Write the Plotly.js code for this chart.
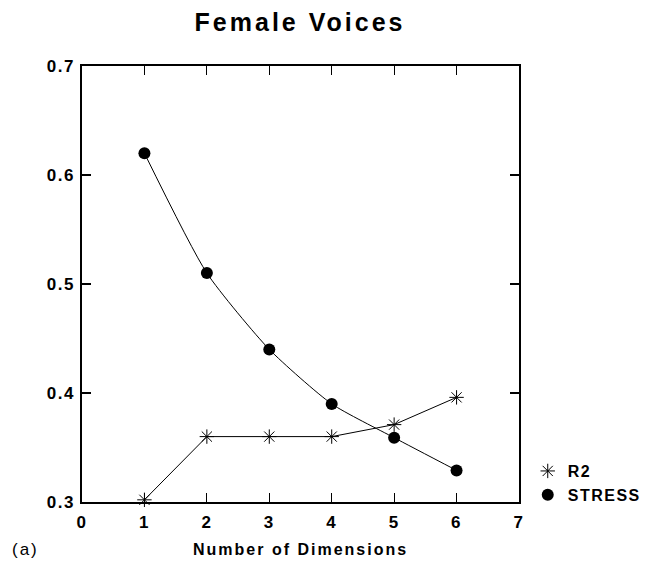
<!DOCTYPE html>
<html>
<head>
<meta charset="utf-8">
<script src="https://cdn.plot.ly/plotly-3.0.1.min.js"></script>
<style>
html, body { margin: 0; padding: 0; background: #fff; }
#chart { width: 648px; height: 573px; }
.gtitle { letter-spacing: 3px; }
.xtick text, .ytick text { letter-spacing: 1.5px; }
.legendtext { letter-spacing: 1.5px; }
.annotation-text { letter-spacing: 2px; }
</style>
</head>
<body>
<div id="chart"></div>
<script>
var dimensions = [1, 2, 3, 4, 5, 6];
var r2Values = [0.302, 0.360, 0.360, 0.360, 0.371, 0.396];
var stressValues = [0.620, 0.510, 0.440, 0.390, 0.359, 0.329];
var xTickVals = [0, 1, 2, 3, 4, 5, 6, 7];
var xTickText = ['0', '1', '2', '3', '4', '5', '6', '7'];
var yTickVals = [0.3, 0.4, 0.5, 0.6, 0.7];
var yTickText = ['0.3', '0.4', '0.5', '0.6', '0.7'];

var boldFont = 'Liberation Sans, Arial, sans-serif';

var traces = [
  {
    x: dimensions, y: r2Values, name: 'R2', type: 'scatter', mode: 'lines',
    line: { color: '#000', width: 1 }, showlegend: false, cliponaxis: false
  },
  {
    x: dimensions, y: stressValues, name: 'STRESS', type: 'scatter', mode: 'lines',
    line: { color: '#000', width: 1, shape: 'spline', smoothing: 0.6 },
    showlegend: false, cliponaxis: false
  },
  {
    x: dimensions, y: r2Values, name: 'R2', type: 'scatter', mode: 'markers',
    marker: { symbol: 'asterisk-open', size: 12, color: '#000', line: { color: '#000', width: 1 } },
    cliponaxis: false
  },
  {
    x: dimensions, y: stressValues, name: 'STRESS', type: 'scatter', mode: 'markers',
    marker: { symbol: 'circle', size: 12, color: '#000' },
    cliponaxis: false
  }
];

var layout = {
  width: 648, height: 573,
  margin: { l: 82, r: 129, t: 66, b: 71, pad: 0, autoexpand: false },
  paper_bgcolor: '#fff', plot_bgcolor: '#fff',
  font: { family: boldFont, color: '#000' },
  title: {
    text: 'Female Voices',
    font: { family: boldFont, size: 25, weight: 'bold', color: '#000' },
    x: 0.463, xref: 'container', xanchor: 'center',
    y: 0.962, yref: 'container', yanchor: 'middle'
  },
  xaxis: {
    range: [0, 7], tickmode: 'array', tickvals: xTickVals, ticktext: xTickText,
    ticks: 'inside', ticklen: 9, tickwidth: 1.2, tickcolor: '#000',
    showline: true, linecolor: '#000', linewidth: 1.6, mirror: 'ticks',
    showgrid: false, zeroline: false, ticklabelstandoff: 4,
    tickfont: { family: boldFont, size: 17, weight: 'bold', color: '#000' }
  },
  yaxis: {
    range: [0.3, 0.7], tickmode: 'array', tickvals: yTickVals, ticktext: yTickText,
    ticks: 'inside', ticklen: 9, tickwidth: 1.2, tickcolor: '#000',
    showline: true, linecolor: '#000', linewidth: 1.6, mirror: 'ticks',
    showgrid: false, zeroline: false, ticklabelstandoff: 2,
    tickfont: { family: boldFont, size: 17, weight: 'bold', color: '#000' }
  },
  showlegend: true,
  legend: {
    x: 1.02, xanchor: 'left', y: 0.11, yanchor: 'top',
    font: { family: boldFont, size: 16, weight: 'bold', color: '#000' },
    bgcolor: 'rgba(0,0,0,0)', itemwidth: 30, tracegroupgap: 0
  },
  annotations: [
    {
      text: 'Number of Dimensions', xref: 'paper', yref: 'paper',
      x: 0.5, y: -0.11, xanchor: 'center', yanchor: 'middle', showarrow: false,
      font: { family: boldFont, size: 16, weight: 'bold', color: '#000' }
    },
    {
      text: '(a)', xref: 'paper', yref: 'paper',
      x: -0.165, y: -0.11, xanchor: 'left', yanchor: 'middle', showarrow: false,
      font: { family: boldFont, size: 17, color: '#000' }
    }
  ]
};

Plotly.newPlot('chart', traces, layout, { displayModeBar: false, staticPlot: true });
</script>
</body>
</html>
